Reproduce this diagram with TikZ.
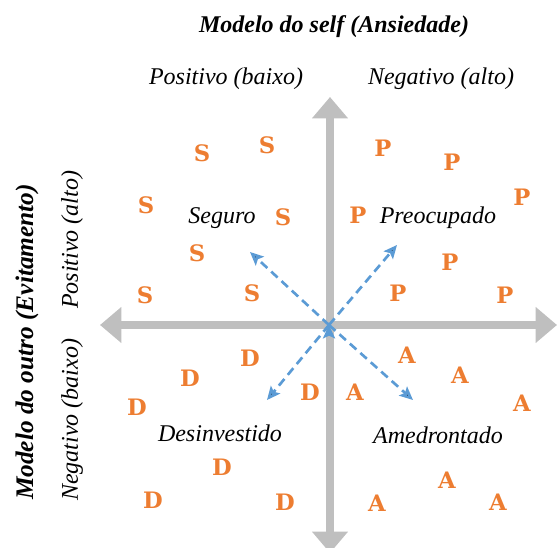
\documentclass[tikz,border=0pt]{standalone}
\usepackage{fontspec}
\setmainfont{Liberation Serif}
\newfontfamily\letra{DejaVu Serif}
\usepackage{tikz}
\usetikzlibrary{arrows.meta}

\definecolor{eixocinza}{RGB}{191,191,191}
\definecolor{laranja}{RGB}{237,125,49}
\definecolor{azul}{RGB}{91,155,213}

\tikzset{
  eixo/.style={draw=eixocinza,line width=5.5pt,
    {Triangle[width=26pt,length=16pt]}-{Triangle[width=26pt,length=16pt]}},
  seta/.style={draw=azul,line width=2pt,dash pattern=on 6.5pt off 4pt,
    -{Stealth[length=10pt,width=9pt,inset=2pt]}},
  letra/.style={text=laranja,font=\letra\bfseries\fontsize{17}{19}\selectfont,inner sep=0pt},
  rotulo/.style={font=\itshape\fontsize{18}{20}\selectfont,inner sep=0pt},
  titulo/.style={font=\bfseries\itshape\fontsize{18}{20}\selectfont,inner sep=0pt}
}

\begin{document}
\begin{tikzpicture}[x=0.75pt,y=-0.75pt]
   \useasboundingbox (0,0) rectangle (557,548);
   % eixos
   \coordinate (topo) at (330,97);
   \coordinate (base) at (330,553);
   \coordinate (esq) at (100,325);
   \coordinate (dir) at (557,325);
   \coordinate (o) at (329,325);
   \draw[eixo] (topo) -- (base);
   \draw[eixo] (esq) -- (dir);

   % titulos dos eixos
   \node[titulo] (self) at (334,27) {Modelo do self (Ansiedade)};
   \node[rotulo] (posb) at (226,79) {Positivo (baixo)};
   \node[rotulo] (nega) at (441,79) {Negativo (alto)};
   \node[titulo,rotate=90,font=\bfseries\itshape\fontsize{19}{21}\selectfont] (outro) at (27,342) {Modelo do outro (Evitamento)};
   \node[rotulo,rotate=90] (posa) at (72,240) {Positivo (alto)};
   \node[rotulo,rotate=90] (negb) at (72,420) {Negativo (baixo)};

   % letras
   \foreach \x/\y [count=\i] in {202/153,267/145,146/205,283/217,197/253,145/295,252/293}
      \node[letra] (s\i) at (\x,\y) {S};
   \foreach \x/\y [count=\i] in {383/148,452/162,522/197,358/215,450/262,398/293,505/295}
      \node[letra] (p\i) at (\x,\y) {P};
   \foreach \x/\y [count=\i] in {250/358,190/378,137/407,310/392,222/467,153/500,285/502}
      \node[letra] (d\i) at (\x,\y) {D};
   \foreach \x/\y [count=\i] in {407/355,460/375,355/392,522/403,447/480,377/503,498/502}
      \node[letra] (a\i) at (\x,\y) {A};

   % estilos
   \node[rotulo] (seg) at (222,218) {Seguro};
   \node[rotulo] (preo) at (438,218) {Preocupado};
   \node[rotulo] (desi) at (220,433) {Desinvestido};
   \node[rotulo] (amed) at (438,435) {Amedrontado};

   \coordinate (tseg) at (250,252);
   \coordinate (tpreo) at (397,245);
   \coordinate (tdesi) at (267,400);
   \coordinate (tamed) at (413,400);
   \path[seta] (o) edge (tseg)
               (o) edge (tpreo)
               (o) edge (tdesi)
               (o) edge (tamed);
\end{tikzpicture}
\end{document}
